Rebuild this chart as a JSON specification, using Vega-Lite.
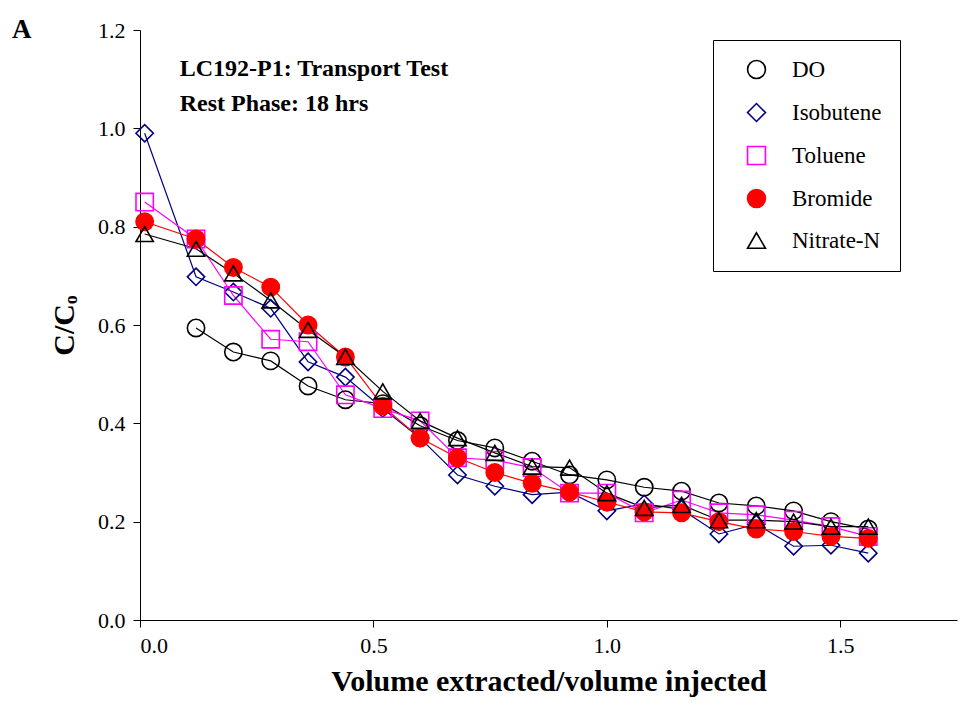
{
  "$schema": "https://vega.github.io/schema/vega-lite/v6.json",
  "autosize": "none",
  "width": 817,
  "height": 590,
  "padding": {"left": 140, "top": 30, "right": 18, "bottom": 107},
  "config": {
    "view": {"stroke": null},
    "font": "Liberation Serif",
    "axis": {"labelFont": "Liberation Serif", "titleFont": "Liberation Serif", "labelFontSize": 22, "labelColor": "black", "domainColor": "black", "tickColor": "black", "tickSize": 7, "grid": false, "titleFontSize": 30, "titleColor": "black"}
  },
  "title": {"text": "A", "anchor": "start", "frame": "group", "dx": -128, "offset": -25, "fontSize": 27, "font": "Liberation Serif", "fontWeight": "bold", "color": "black"},
  "datasets": {
    "pts": [
      {"s": "DO", "x": 0.12, "y": 0.594}, {"s": "DO", "x": 0.2, "y": 0.545}, {"s": "DO", "x": 0.28, "y": 0.527}, {"s": "DO", "x": 0.36, "y": 0.476}, {"s": "DO", "x": 0.44, "y": 0.448}, {"s": "DO", "x": 0.52, "y": 0.44}, {"s": "DO", "x": 0.6, "y": 0.395}, {"s": "DO", "x": 0.68, "y": 0.365}, {"s": "DO", "x": 0.76, "y": 0.35}, {"s": "DO", "x": 0.84, "y": 0.323}, {"s": "DO", "x": 0.92, "y": 0.295}, {"s": "DO", "x": 1.0, "y": 0.285}, {"s": "DO", "x": 1.08, "y": 0.27}, {"s": "DO", "x": 1.16, "y": 0.262}, {"s": "DO", "x": 1.24, "y": 0.238}, {"s": "DO", "x": 1.32, "y": 0.232}, {"s": "DO", "x": 1.4, "y": 0.222}, {"s": "DO", "x": 1.48, "y": 0.2}, {"s": "DO", "x": 1.56, "y": 0.185},
      {"s": "Isobutene", "x": 0.01, "y": 0.99}, {"s": "Isobutene", "x": 0.12, "y": 0.698}, {"s": "Isobutene", "x": 0.2, "y": 0.667}, {"s": "Isobutene", "x": 0.28, "y": 0.634}, {"s": "Isobutene", "x": 0.36, "y": 0.525}, {"s": "Isobutene", "x": 0.44, "y": 0.494}, {"s": "Isobutene", "x": 0.52, "y": 0.43}, {"s": "Isobutene", "x": 0.6, "y": 0.37}, {"s": "Isobutene", "x": 0.68, "y": 0.295}, {"s": "Isobutene", "x": 0.76, "y": 0.272}, {"s": "Isobutene", "x": 0.84, "y": 0.255}, {"s": "Isobutene", "x": 0.92, "y": 0.26}, {"s": "Isobutene", "x": 1.0, "y": 0.222}, {"s": "Isobutene", "x": 1.08, "y": 0.236}, {"s": "Isobutene", "x": 1.16, "y": 0.225}, {"s": "Isobutene", "x": 1.24, "y": 0.175}, {"s": "Isobutene", "x": 1.32, "y": 0.195}, {"s": "Isobutene", "x": 1.4, "y": 0.15}, {"s": "Isobutene", "x": 1.48, "y": 0.152}, {"s": "Isobutene", "x": 1.56, "y": 0.136},
      {"s": "Toluene", "x": 0.01, "y": 0.85}, {"s": "Toluene", "x": 0.12, "y": 0.775}, {"s": "Toluene", "x": 0.2, "y": 0.66}, {"s": "Toluene", "x": 0.28, "y": 0.571}, {"s": "Toluene", "x": 0.36, "y": 0.566}, {"s": "Toluene", "x": 0.44, "y": 0.458}, {"s": "Toluene", "x": 0.52, "y": 0.43}, {"s": "Toluene", "x": 0.6, "y": 0.405}, {"s": "Toluene", "x": 0.68, "y": 0.33}, {"s": "Toluene", "x": 0.76, "y": 0.325}, {"s": "Toluene", "x": 0.84, "y": 0.31}, {"s": "Toluene", "x": 0.92, "y": 0.258}, {"s": "Toluene", "x": 1.0, "y": 0.258}, {"s": "Toluene", "x": 1.08, "y": 0.218}, {"s": "Toluene", "x": 1.16, "y": 0.244}, {"s": "Toluene", "x": 1.24, "y": 0.218}, {"s": "Toluene", "x": 1.32, "y": 0.214}, {"s": "Toluene", "x": 1.4, "y": 0.203}, {"s": "Toluene", "x": 1.48, "y": 0.19}, {"s": "Toluene", "x": 1.56, "y": 0.17},
      {"s": "Bromide", "x": 0.01, "y": 0.81}, {"s": "Bromide", "x": 0.12, "y": 0.775}, {"s": "Bromide", "x": 0.2, "y": 0.717}, {"s": "Bromide", "x": 0.28, "y": 0.677}, {"s": "Bromide", "x": 0.36, "y": 0.6}, {"s": "Bromide", "x": 0.44, "y": 0.535}, {"s": "Bromide", "x": 0.52, "y": 0.435}, {"s": "Bromide", "x": 0.6, "y": 0.37}, {"s": "Bromide", "x": 0.68, "y": 0.33}, {"s": "Bromide", "x": 0.76, "y": 0.3}, {"s": "Bromide", "x": 0.84, "y": 0.278}, {"s": "Bromide", "x": 0.92, "y": 0.26}, {"s": "Bromide", "x": 1.0, "y": 0.24}, {"s": "Bromide", "x": 1.08, "y": 0.22}, {"s": "Bromide", "x": 1.16, "y": 0.218}, {"s": "Bromide", "x": 1.24, "y": 0.2}, {"s": "Bromide", "x": 1.32, "y": 0.185}, {"s": "Bromide", "x": 1.4, "y": 0.18}, {"s": "Bromide", "x": 1.48, "y": 0.17}, {"s": "Bromide", "x": 1.56, "y": 0.166},
      {"s": "Nitrate-N", "x": 0.01, "y": 0.785}, {"s": "Nitrate-N", "x": 0.12, "y": 0.755}, {"s": "Nitrate-N", "x": 0.2, "y": 0.705}, {"s": "Nitrate-N", "x": 0.28, "y": 0.65}, {"s": "Nitrate-N", "x": 0.36, "y": 0.59}, {"s": "Nitrate-N", "x": 0.44, "y": 0.535}, {"s": "Nitrate-N", "x": 0.52, "y": 0.465}, {"s": "Nitrate-N", "x": 0.6, "y": 0.405}, {"s": "Nitrate-N", "x": 0.68, "y": 0.37}, {"s": "Nitrate-N", "x": 0.76, "y": 0.34}, {"s": "Nitrate-N", "x": 0.84, "y": 0.312}, {"s": "Nitrate-N", "x": 0.92, "y": 0.31}, {"s": "Nitrate-N", "x": 1.0, "y": 0.258}, {"s": "Nitrate-N", "x": 1.08, "y": 0.228}, {"s": "Nitrate-N", "x": 1.16, "y": 0.234}, {"s": "Nitrate-N", "x": 1.24, "y": 0.203}, {"s": "Nitrate-N", "x": 1.32, "y": 0.203}, {"s": "Nitrate-N", "x": 1.4, "y": 0.2}, {"s": "Nitrate-N", "x": 1.48, "y": 0.19}, {"s": "Nitrate-N", "x": 1.56, "y": 0.19}
    ],
    "notes": [
      {"x": 0.085, "y": 1.12, "t": "LC192-P1: Transport Test"},
      {"x": 0.085, "y": 1.05, "t": "Rest Phase: 18 hrs"}
    ]
  },
  "layer": [
    {
      "data": {"name": "pts"},
      "mark": {"type": "line", "strokeWidth": 1.2},
      "encoding": {
        "x": {"field": "x", "type": "quantitative", "scale": {"domain": [0, 1.75], "nice": false}, "axis": {"values": [0, 0.5, 1.0, 1.5], "format": ".1f", "title": "Volume extracted/volume injected", "titlePadding": 10, "labelPadding": 8}},
        "y": {"field": "y", "type": "quantitative", "scale": {"domain": [0, 1.2], "nice": false}, "axis": {"values": [0, 0.2, 0.4, 0.6, 0.8, 1.0, 1.2], "format": ".1f", "title": "C/Cₒ", "titlePadding": 18, "labelPadding": 8}},
        "stroke": {"field": "s", "type": "nominal",
          "scale": {"domain": ["DO", "Isobutene", "Toluene", "Bromide", "Nitrate-N"], "range": ["black", "#000080", "#ff00ff", "#ff0000", "black"]},
          "legend": {"title": null, "orient": "none", "legendX": 573, "legendY": 10, "labelFontSize": 23, "labelFont": "Liberation Serif", "labelColor": "black", "symbolSize": 320, "rowPadding": 18, "padding": 18, "strokeColor": "black", "fillColor": "white", "labelOffset": 24, "symbolOffset": 14, "symbolStrokeWidth": 1.6}},
        "order": {"field": "x", "type": "quantitative"}
      }
    },
    {
      "data": {"name": "pts"},
      "mark": {"type": "point", "size": 300, "strokeWidth": 1.6, "opacity": 1},
      "encoding": {
        "x": {"field": "x", "type": "quantitative"},
        "y": {"field": "y", "type": "quantitative"},
        "shape": {"field": "s", "type": "nominal",
          "scale": {"domain": ["DO", "Isobutene", "Toluene", "Bromide", "Nitrate-N"], "range": ["circle", "diamond", "square", "circle", "triangle-up"]}},
        "stroke": {"field": "s", "type": "nominal"},
        "fill": {"field": "s", "type": "nominal",
          "scale": {"domain": ["DO", "Isobutene", "Toluene", "Bromide", "Nitrate-N"], "range": ["rgba(255,255,255,0)", "rgba(255,255,255,0)", "rgba(255,255,255,0)", "#ff0000", "rgba(255,255,255,0)"]}}
      }
    },
    {
      "data": {"name": "notes"},
      "mark": {"type": "text", "align": "left", "baseline": "middle", "fontSize": 24, "fontWeight": "bold", "font": "Liberation Serif", "color": "black"},
      "encoding": {
        "x": {"field": "x", "type": "quantitative"},
        "y": {"field": "y", "type": "quantitative"},
        "text": {"field": "t"}
      }
    }
  ]
}
